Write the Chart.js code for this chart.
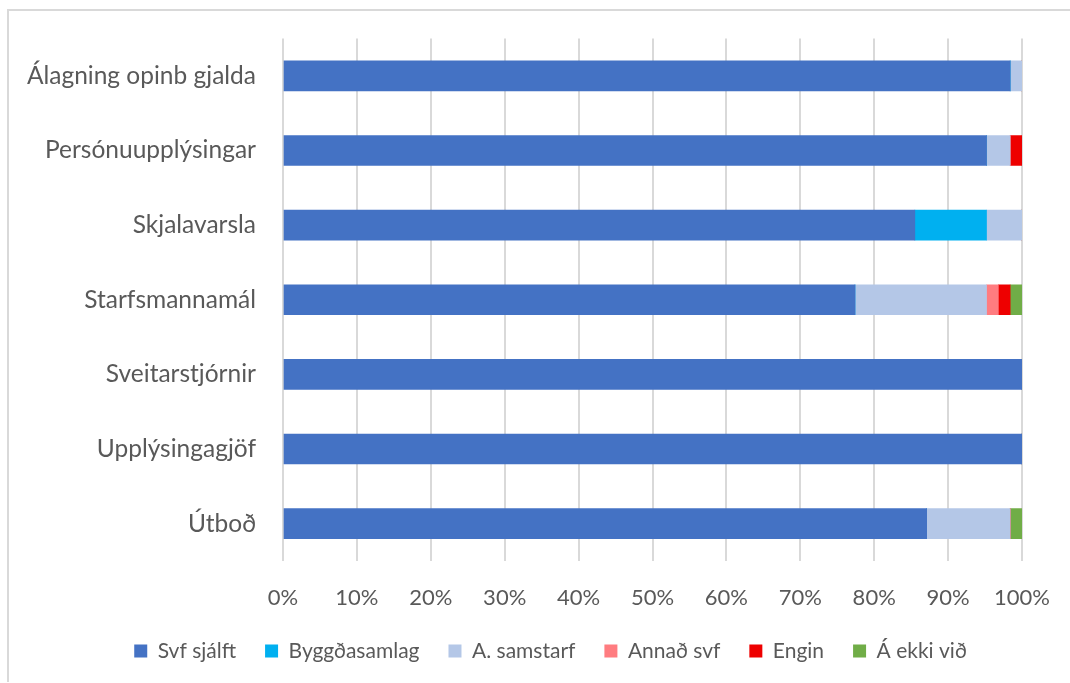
<!DOCTYPE html>
<html>
<head>
<meta charset="utf-8">
<script src="https://cdn.jsdelivr.net/npm/chart.js@4/dist/chart.umd.min.js"></script>
<style>
  html, body { margin: 0; padding: 0; background: #fff; overflow: hidden; width: 1070px; height: 683px; }
  #frame { position: absolute; left: 7px; top: 9px; width: 1100px; height: 671px;
           border-left: 2px solid #d9d9d9; border-top: 2px solid #d9d9d9; }
  #wrap { position: absolute; left: 0; top: 0; width: 1070px; height: 683px; }
</style>
</head>
<body>
<div id="frame"></div>
<div id="wrap"><canvas id="c" width="1070" height="683"></canvas></div>
<script>
const categories = ["Álagning opinb gjalda", "Persónuupplýsingar", "Skjalavarsla", "Starfsmannamál", "Sveitarstjórnir", "Upplýsingagjöf", "Útboð"];
const svfSjalft    = [98.4, 95.2, 85.5, 77.4, 100, 100, 87.1];
const byggdasamlag = [0, 0, 9.7, 0, 0, 0, 0];
const aSamstarf    = [1.6, 3.2, 4.8, 17.8, 0, 0, 11.3];
const annadSvf     = [0, 0, 0, 1.6, 0, 0, 0];
const engin        = [0, 1.6, 0, 1.6, 0, 0, 0];
const aEkkiVid     = [0, 0, 0, 1.6, 0, 0, 1.6];
const xTicks = [0, 10, 20, 30, 40, 50, 60, 70, 80, 90, 100];

const FONT = "Lato, 'Open Sans', sans-serif";
const TXT = "#595959";

const ds = (label, data, color) => ({ label, data, backgroundColor: color, borderWidth: 0, barThickness: 30 });

// shift the legend so it is centred like the original (whose frame extends past the right edge)
const legendShift = {
  id: 'legendShift',
  afterLayout(chart) {
    if (chart.legend) { chart.legend.left += 39.5; chart.legend.right += 39.5; }
  }
};

new Chart(document.getElementById('c'), {
  type: 'bar',
  data: {
    labels: categories,
    datasets: [
      ds("Svf sjálft", svfSjalft, "#4472C4"),
      ds("Byggðasamlag", byggdasamlag, "#00B0F0"),
      ds("A. samstarf", aSamstarf, "#B4C7E7"),
      ds("Annað svf", annadSvf, "#FF7C80"),
      ds("Engin", engin, "#EE0000"),
      ds("Á ekki við", aEkkiVid, "#70AD47")
    ]
  },
  plugins: [legendShift],
  options: {
    indexAxis: 'y',
    responsive: false,
    animation: false,
    layout: { padding: { top: 38.5, right: 48, left: 0, bottom: 11.5 } },
    plugins: {
      tooltip: { enabled: false },
      legend: {
        position: 'bottom',
        labels: {
          font: { family: FONT, size: 21 },
          color: TXT,
          boxWidth: 13,
          boxHeight: 13,
          padding: 29
        }
      }
    },
    scales: {
      x: {
        stacked: true,
        min: 0, max: 100,
        afterBuildTicks: (s) => { s.ticks = xTicks.map(v => ({ value: v })); },
        afterFit: (s) => { s.height = 50.5; },
        grid: { color: "#d9d9d9", lineWidth: 2, drawTicks: true, tickLength: 22, tickColor: 'rgba(0,0,0,0)' },
        border: { display: false },
        ticks: {
          padding: 2,
          color: TXT,
          font: { family: FONT, size: 22 },
          callback: (v) => v + "%"
        }
      },
      y: {
        stacked: true,
        afterFit: (s) => { s.width = 283; },
        grid: { display: true, drawOnChartArea: false, drawTicks: true, tickLength: 25, tickColor: 'rgba(0,0,0,0)' },
        border: { display: false },
        ticks: {
          padding: 2,
          color: TXT,
          font: { family: FONT, size: 24.5 }
        }
      }
    }
  }
});
</script>
</body>
</html>
